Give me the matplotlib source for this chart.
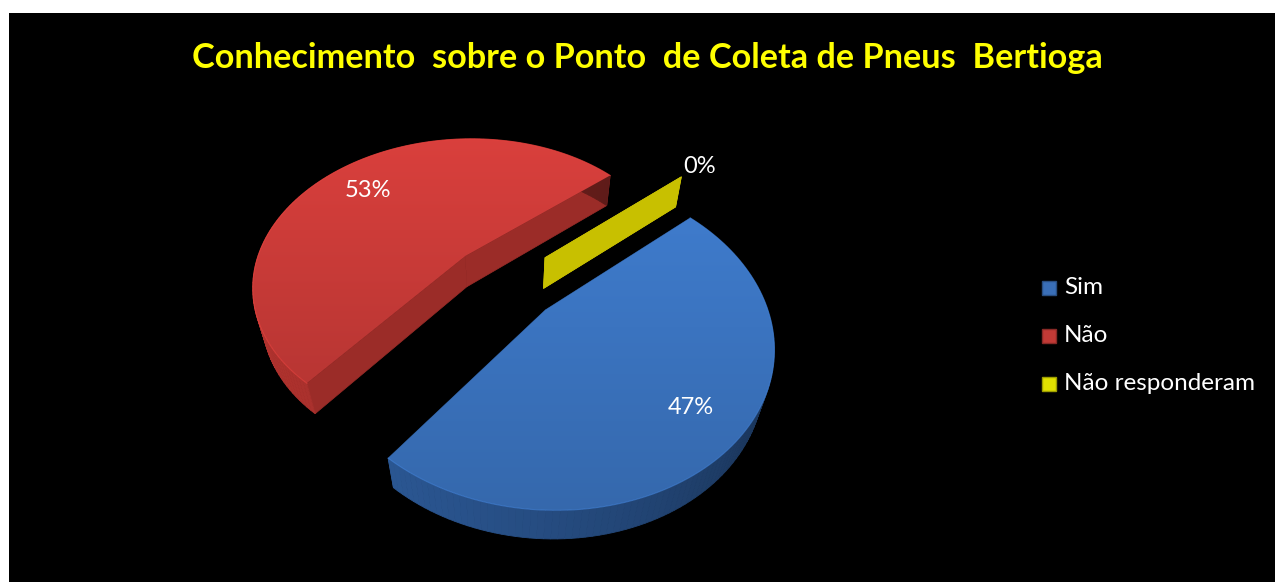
import numpy as np
import matplotlib.pyplot as plt
from matplotlib.patches import Polygon, Rectangle
from matplotlib.colors import to_rgb

labels = ['Sim', 'Não', 'Não responderam']
values = [47, 53, 0]
pct_labels = ['47%', '53%', '0%']
top_colors = ['#3b74c0', '#cd3c39', '#c8c000']
wall_colors = ['#2a5590', '#a8302c', '#b0aa00']
legend_colors = ['#3a6fb8', '#c23a36', '#e0e000']
title = 'Conhecimento  sobre o Ponto  de Coleta de Pneus  Bertioga'

W, H = 1275, 582
fig = plt.figure(figsize=(W / 100, H / 100), dpi=100)
fig.patch.set_facecolor('white')
ax = fig.add_axes([0, 0, 1, 1])
ax.set_xlim(0, W)
ax.set_ylim(H, 0)
ax.axis('off')
ax.add_patch(Rectangle((9, 13), W - 9, H - 13, facecolor='black', edgecolor='none', zorder=0))

# simple perspective camera for the 3d pie
cx, cy = 504, 282
f = 795
tilt = np.radians(44)
R = 0.27
depth = 0.056
explode = 0.07
start = 40.5
label_r = [0.78, 0.74, 1.15]


def project(X, Y, Z):
    d = 1 + Y * np.cos(tilt) - Z * np.sin(tilt)
    sx = cx + f * X / d
    sy = cy - f * (Y * np.sin(tilt) + Z * np.cos(tilt)) / d
    return np.column_stack([sx, sy]) if np.ndim(sx) else np.array([sx, sy])


def shade(c, k):
    return tuple(np.clip(np.array(to_rgb(c)) * k, 0, 1))


total = sum(values)
slices = []
a = start
for i, v in enumerate(values):
    t1 = a
    t2 = a - v / total * 360
    a = t2
    mid = np.radians((t1 + t2) / 2)
    slices.append((i, np.radians(t1), np.radians(t2), mid))

# back slices first
slices.sort(key=lambda s: -np.sin(s[3]))

for i, t1, t2, mid in slices:
    ox, oy = explode * np.cos(mid), explode * np.sin(mid)
    n = max(int(abs(t1 - t2) / np.radians(1.5)), 2)
    th = np.linspace(t1, t2, n)
    X = ox + R * np.cos(th)
    Y = oy + R * np.sin(th)
    top = project(X, Y, np.zeros_like(X))
    bot = project(X, Y, np.full_like(X, -depth))
    apex_t = project(ox, oy, 0.0)
    apex_b = project(ox, oy, -depth)

    # radial faces
    for k in (0, -1):
        quad = [apex_t, top[k], bot[k], apex_b]
        c = top_colors[i] if values[i] == 0 else shade(wall_colors[i], 0.92)
        ax.add_patch(Polygon(quad, closed=True, facecolor=c, edgecolor=c, lw=0.5, zorder=2))

    if values[i] == 0:
        continue

    # outer wall
    for j in range(n - 1):
        lit = 0.8 + 0.25 * np.cos(th[j] - np.radians(200))
        c = shade(wall_colors[i], lit)
        quad = [top[j], top[j + 1], bot[j + 1], bot[j]]
        ax.add_patch(Polygon(quad, closed=True, facecolor=c, edgecolor=c, lw=0.6, zorder=2))

    # top face with a soft gradient
    face = np.vstack([apex_t, top])
    poly = Polygon(face, closed=True, facecolor='none', edgecolor='none', zorder=3)
    ax.add_patch(poly)
    x0, y0 = face.min(axis=0)
    x1, y1 = face.max(axis=0)
    base = np.array(to_rgb(top_colors[i]))
    g = np.linspace(1.06, 0.9, 64)[:, None, None]
    img = np.clip(base[None, None, :] * g, 0, 1) * np.ones((64, 2, 3))
    im = ax.imshow(img, extent=(x0, x1, y1, y0), aspect='auto', zorder=3,
                   interpolation='bilinear')
    im.set_clip_path(poly)
    ax.plot(top[:, 0], top[:, 1], color=shade(top_colors[i], 1.2), lw=0.8,
            alpha=0.5, zorder=4)

ax.set_xlim(0, W)
ax.set_ylim(H, 0)

# percentage labels
for i, t1, t2, mid in slices:
    ox, oy = explode * np.cos(mid), explode * np.sin(mid)
    r = R * label_r[i]
    px, py = project(ox + r * np.cos(mid), oy + r * np.sin(mid), 0.0)
    ax.text(px, py, pct_labels[i], color='white', fontsize=17, family='Lato',
            ha='center', va='center', zorder=6)

# title
ax.text(647, 58, title, color='#ffff00', fontsize=24.7, fontweight='bold',
        family='Lato', ha='center', va='center', zorder=6)

# legend
for i, lab in enumerate(labels):
    y = 288 + 48 * i
    ax.add_patch(Rectangle((1042, y - 7), 14, 14, facecolor=legend_colors[i],
                           edgecolor=shade(legend_colors[i], 0.7), lw=1, zorder=6))
    ax.text(1064, y, lab, color='white', fontsize=17.5, family='Lato',
            ha='left', va='center', zorder=6)

fig.savefig('out.png', dpi=100, facecolor=fig.get_facecolor())
